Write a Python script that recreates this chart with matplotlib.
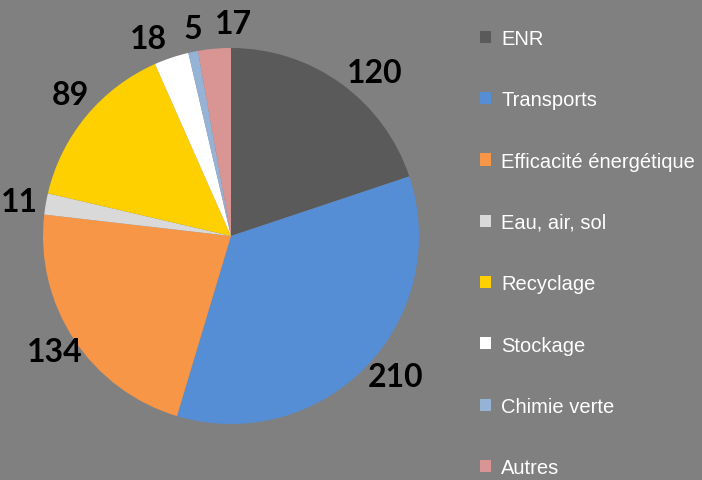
import numpy as np
import matplotlib
matplotlib.use("Agg")
import matplotlib.pyplot as plt

# data
categories = ["ENR", "Transports", "Efficacité énergétique", "Eau, air, sol",
              "Recyclage", "Stockage", "Chimie verte", "Autres"]
values = [120, 210, 134, 11, 89, 18, 5, 17]
colors = ["#5a5a5a", "#558ed5", "#f79646", "#d9d9d9",
          "#ffd000", "#ffffff", "#95b3d7", "#d99594"]

# label placement tweaks (angle shift in degrees, radial distance)
label_shift = [-5.5, 3.6, 0, 0.6, -1.8, 4.3, -1.2, -5.6]
label_dist = [1.16, 1.15, 1.12, 1.14, 1.14, 1.14, 1.12, 1.13]

bg = "#808080"
fig = plt.figure(figsize=(7.02, 4.81), dpi=100, facecolor=bg)

W, H = 702, 481
cx, cy, r = 231, 237, 188
ax = fig.add_axes([(cx - r) / W, (H - cy - r) / H, 2 * r / W, 2 * r / H])
ax.set_facecolor(bg)

wedges, _ = ax.pie(values, colors=colors, startangle=90, counterclock=False,
                   wedgeprops=dict(linewidth=0))
for w, v, s, d in zip(wedges, values, label_shift, label_dist):
    ang = np.deg2rad((w.theta1 + w.theta2) / 2 + s)
    ax.text(d * np.cos(ang), d * np.sin(ang), str(v), ha="center", va="center",
            fontsize=23, fontweight="bold", family="Lato", color="black")
ax.set_aspect("equal")
ax.set_xlim(-1, 1)
ax.set_ylim(-1, 1)
ax.axis("off")

leg = fig.legend(wedges, categories, loc="upper left",
                 bbox_to_anchor=(472 / W, 1 - 22 / H), frameon=False,
                 handlelength=0.55, handleheight=0.55, handletextpad=0.5,
                 labelspacing=2.1, borderaxespad=0,
                 prop=dict(family="Liberation Sans", size=14.5))
for t in leg.get_texts():
    t.set_color("white")

fig.savefig("out.png", dpi=100, facecolor=bg)
